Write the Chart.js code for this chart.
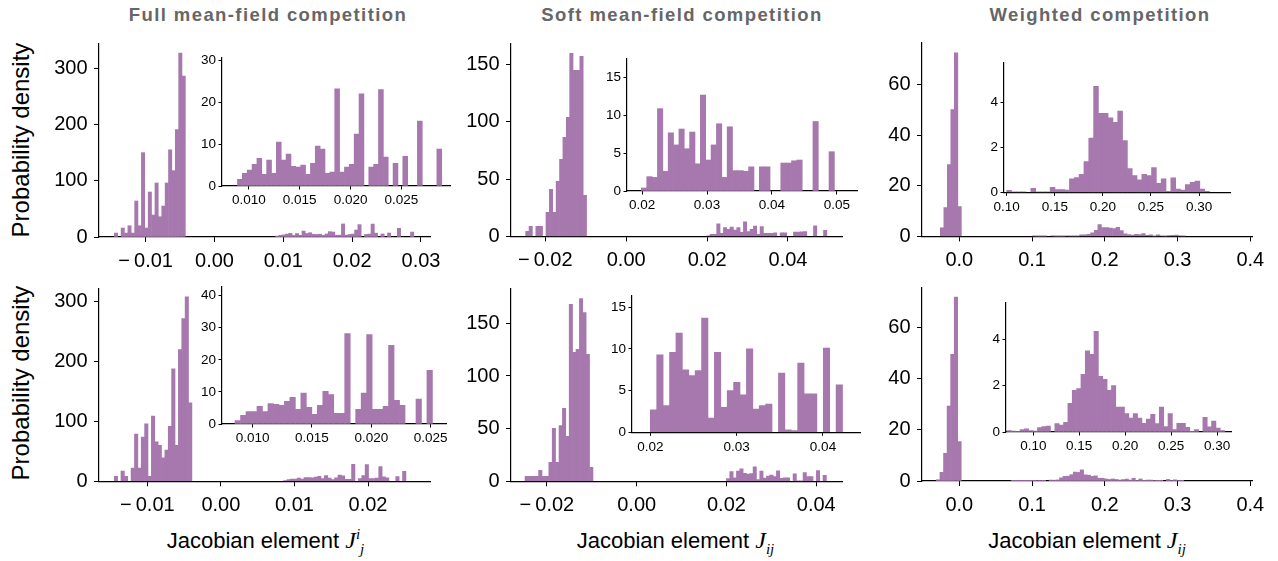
<!DOCTYPE html>
<html>
<head>
<meta charset="utf-8">
<title>Jacobian element histograms</title>
<script src="https://cdn.jsdelivr.net/npm/chart.js@4.4.7/dist/chart.umd.min.js"></script>
<style>
  html, body { margin: 0; padding: 0; background: #fff; }
  #fig { position: relative; width: 1278px; height: 561px; overflow: hidden;
         font-family: "Liberation Sans", Arial, Helvetica, sans-serif; color: #000; }
  #fig canvas { position: absolute; }
  .title { position: absolute; top: 5.6px; width: 400px; text-align: center; font-size: 18.5px;
           font-weight: bold; letter-spacing: 1.4px; color: #666; line-height: 1; white-space: nowrap; }
  .xlab { position: absolute; top: 529.7px; font-size: 22px; line-height: 1; white-space: nowrap; }
  .ylab { position: absolute; width: 300px; text-align: center; font-size: 24px; line-height: 1;
          transform: rotate(-90deg); white-space: nowrap; }
  .m { font-family: "Liberation Serif", "DejaVu Serif", serif; font-style: italic; font-size: 24px; line-height: 0; }
  .m sup, .m sub { font-size: 15px; line-height: 0; }
  .m sup { vertical-align: 9px; }
  .m sub { vertical-align: -6px; }
</style>
</head>
<body>
<div id="fig">
  <div class="title" style="left:68px">Full mean-field competition</div>
  <div class="title" style="left:482px">Soft mean-field competition</div>
  <div class="title" style="left:900px">Weighted competition</div>
  <div class="ylab" style="left:-129.3px; top:128px">Probability density</div>
  <div class="ylab" style="left:-129.3px; top:370.7px">Probability density</div>
  <div class="xlab" style="left:166.7px">Jacobian element <span class="m">J<sup>i</sup><sub>j</sub></span></div>
  <div class="xlab" style="left:576.7px">Jacobian element <span class="m">J<sub>ij</sub></span></div>
  <div class="xlab" style="left:988.3px">Jacobian element <span class="m">J<sub>ij</sub></span></div>
</div>
<script>
(function () {
  "use strict";

  var BAR = "#a678ae";

  // ---- Histogram bins: [first edge, bin width] + densities ----
  // Full mean-field, top row
  var fullTopNegBins = [-0.01456, 0.000492];
  var fullTopNeg = [7, 0, 16, 7, 20, 7, 64, 20, 150, 16, 80, 39, 96, 36, 55, 96, 155, 118, 191, 327, 286];
  var fullTopPosBins = [0.00888, 0.000478];
  var fullTopPos = [1.6, 3.0, 3.8, 5.2, 6.6, 2.8, 6.2, 3.0, 10.5, 6.2, 7.6, 4.7, 4.5, 5.0, 2.8, 5.4, 9.5, 8.8, 3.0, 3.3,
                    23.2, 3.3, 4.5, 5.2, 12.4, 22.0, 0, 4.5, 5.2, 23.0, 6.9, 0, 5.4, 0, 7.1, 0, 0, 15.5, 0, 0, 0, 8.8];

  // Full mean-field, bottom row
  var fullBotNegBins = [-0.0145, 0.000459];
  var fullBotNeg = [8.4, 0, 17, 8.4, 0, 22, 79, 22, 74, 96, 8.4, 109, 66, 60, 39, 52, 92, 188, 60, 220, 272, 308, 131];
  var fullBotPosBins = [0.00852, 0.000462];
  var fullBotPos = [1.1, 2.7, 3.9, 3.9, 5.5, 3.9, 6.4, 6.1, 5.8, 7.1, 8.3, 4.6, 9.6, 5.2, 3.0, 5.8, 10.2, 9.2, 3.3, 3.3,
                    28.2, 0, 4.6, 9.6, 27.9, 4.6, 4.6, 5.5, 24.5, 7.4, 5.8, 0, 0, 7.8, 0, 16.7];

  // Soft mean-field, top row
  var softTopNegBins = [-0.02486, 0.000837];
  var softTopNeg = [4.4, 8.7, 0, 8.7, 8.7, 0, 20.9, 41.0, 20.9, 48.0, 67.2, 86.4, 103.8, 159.7, 144.9, 144.9, 157.1, 35.8];
  var softTopPosBins = [0.0199, 0.000825];
  var softTopPos = [0.4, 1.9, 1.8, 10.9, 2.6, 7.7, 6.1, 8.2, 5.6, 7.8, 3.6, 12.7, 4.1, 6.1, 8.9, 1.8, 8.5, 2.7, 2.7, 2.6,
                    3.2, 0, 3.2, 3.2, 0, 0, 3.7, 3.7, 4.0, 4.1, 0, 0, 9.2, 0, 0, 5.2];

  // Soft mean-field, bottom row
  var softBotNegBins = [-0.02488, 0.000757];
  var softBotNeg = [4.7, 4.7, 4.7, 4.7, 10.4, 4.7, 4.7, 18, 50.3, 18, 53, 69.3, 42.7, 168, 122.4, 125.2, 173.6, 160.3, 120.5, 13.3];
  var softBotPosBins = [0.0200, 0.000742];
  var softBotPos = [2.7, 9.3, 3.2, 9.6, 11.9, 7.5, 6.8, 7.4, 13.7, 1.7, 9.6, 3.0, 5.0, 6.0, 4.5, 10.0, 2.8, 3.2, 3.4, 0,
                    7.1, 0.3, 0.2, 8.3, 4.6, 4.6, 0, 10.1, 0, 5.7];

  // Weighted, top row
  var wtdTopNegBins = [-0.0261, 0.00481];
  var wtdTopNeg = [3.4, 11.4, 28.4, 50.2, 72.7, 11.8];
  var wtdTopPosBins = [0.100, 0.00502];
  var wtdTopPos = [0.09, 0.03, 0.03, 0.03, 0, 0.18, 0.03, 0.03, 0.03, 0.22, 0.12, 0.12, 0.1, 0.6, 0.66, 0.8, 1.37, 2.4, 4.7, 3.5,
                   3.5, 3.3, 3.1, 3.6, 2.3, 1.06, 0.75, 0.56, 0.8, 0.75, 1.1, 0.4, 0.6, 0.05, 0.65, 0.15, 0.1, 0.35, 0.45, 0.5,
                   0.15, 0.05];

  // Weighted, bottom row
  var wtdBotNegBins = [-0.0316, 0.0049];
  var wtdBotNeg = [0.5, 3.4, 10.8, 29.3, 49.5, 71.9, 15.4];
  var wtdBotPosBins = [0.0713, 0.00474];
  var wtdBotPos = [0.06, 0.04, 0.03, 0.1, 0.14, 0.06, 0.04, 0.19, 0.23, 0.26, 0, 0.36, 0.3, 0.42, 1.24, 1.8, 1.88, 2.49, 3.5, 3.35,
                   4.35, 2.4, 2.27, 1.8, 2.0, 1.08, 1.08, 0.8, 0.6, 0.8, 0.6, 0.37, 0.56, 0.76, 0.36, 1.08, 0.23, 0.8, 0.1, 0.37,
                   0.37, 0.2, 0.01, 0.1, 0, 0.63, 0.22, 0.47, 0.17, 0.06];

  // ---- Tick values ----
  var fullTopXTicks = [-0.01, 0, 0.01, 0.02, 0.03];
  var fullBotXTicks = [-0.01, 0, 0.01, 0.02];
  var fullYTicks = [0, 100, 200, 300];
  var softXTicks = [-0.02, 0, 0.02, 0.04];
  var softYTicks = [0, 50, 100, 150];
  var wtdXTicks = [0, 0.1, 0.2, 0.3, 0.4];
  var wtdYTicks = [0, 20, 40, 60];

  var fullInsetXTicks = [0.010, 0.015, 0.020, 0.025];
  var fullTopInsetYTicks = [0, 10, 20, 30];
  var fullBotInsetYTicks = [0, 10, 20, 30, 40];
  var softTopInsetXTicks = [0.02, 0.03, 0.04, 0.05];
  var softBotInsetXTicks = [0.02, 0.03, 0.04];
  var softInsetYTicks = [0, 5, 10, 15];
  var wtdInsetXTicks = [0.10, 0.15, 0.20, 0.25, 0.30];
  var wtdInsetYTicks = [0, 2, 4];

  // ---- Helpers ----
  function binPoints(bins, heights) {
    var pts = [];
    heights.forEach(function (h, i) {
      if (h > 0) pts.push({ x: bins[0] + (i + 0.5) * bins[1], y: h });
    });
    return pts;
  }

  function fmt(v, d) {
    var s = Math.abs(v).toFixed(d);
    return v < -1e-12 ? "\u2212\u2009" + s : s;
  }

  var fig = document.getElementById("fig");
  // top padding has to cover half a y tick label plus its padding,
  // otherwise Chart.js pushes the plot area down
  var MAIN = { pad: { l: 60, t: 22, r: 30, b: 40 }, fs: 20, tl: 5, xp: 7, yp: 6.5 };
  var INSET = { pad: { l: 34, t: 14, r: 26, b: 26 }, fs: 13.5, tl: 3.5, xp: 3, yp: 2.5 };

  function axis(kind, range, ticks, dec, style, fitSize) {
    return {
      type: "linear",
      min: range[0],
      max: range[1],
      offset: false,
      afterFit: function (s) {
        if (kind === "x") s.height = fitSize; else s.width = fitSize;
      },
      afterBuildTicks: function (s) {
        s.ticks = ticks.map(function (v) { return { value: v }; });
      },
      grid: {
        display: true, offset: false, drawOnChartArea: false, drawTicks: true,
        tickLength: style.tl, tickWidth: 1, tickColor: "#000", color: "#000"
      },
      border: { display: true, color: "#000", width: 1.2 },
      ticks: {
        autoSkip: false, maxRotation: 0, minRotation: 0, color: "#000",
        padding: kind === "x" ? style.xp : style.yp,
        font: { size: style.fs },
        callback: function (v) { return fmt(v, dec); }
      }
    };
  }

  // box = [left, top, right, bottom] of the plotting area on the page
  function histChart(box, style, xr, yr, xt, yt, xd, yd, points) {
    var p = style.pad;
    var w = Math.round(box[2] - box[0] + p.l + p.r);
    var h = Math.round(box[3] - box[1] + p.t + p.b);
    var canvas = document.createElement("canvas");
    canvas.width = w;
    canvas.height = h;
    canvas.style.left = (box[0] - p.l) + "px";
    canvas.style.top = (box[1] - p.t) + "px";
    canvas.style.width = w + "px";
    canvas.style.height = h + "px";
    fig.appendChild(canvas);
    var padB = h - p.t - (box[3] - box[1]);
    var padR = w - p.l - (box[2] - box[0]);

    return new Chart(canvas.getContext("2d"), {
      type: "bar",
      data: {
        datasets: [{
          data: points,
          backgroundColor: BAR,
          borderWidth: 0,
          barPercentage: 1,
          categoryPercentage: 1
        }]
      },
      options: {
        responsive: false,
        animation: false,
        devicePixelRatio: 1,
        layout: { padding: { left: 0, top: p.t, right: padR, bottom: 0 } },
        plugins: { legend: { display: false }, tooltip: { enabled: false } },
        scales: {
          x: axis("x", xr, xt, xd, style, padB),
          y: axis("y", yr, yt, yd, style, p.l)
        }
      }
    });
  }

  Chart.defaults.font.family = "'Liberation Sans', Arial, Helvetica, sans-serif";

  // ---- Main panels ----
  histChart([99, 44, 430, 237], MAIN, [-0.01678, 0.03131], [0, 343.2], fullTopXTicks, fullYTicks, 2, 0,
    binPoints(fullTopNegBins, fullTopNeg).concat(binPoints(fullTopPosBins, fullTopPos)));
  histChart([99, 289, 430.7, 481.3], MAIN, [-0.01657, 0.02852], [0, 321.2], fullBotXTicks, fullYTicks, 2, 0,
    binPoints(fullBotNegBins, fullBotNeg).concat(binPoints(fullBotPosBins, fullBotPos)));
  histChart([510.7, 44.3, 841.7, 236.7], MAIN, [-0.02848, 0.05335], [0, 167.8], softXTicks, softYTicks, 2, 0,
    binPoints(softTopNegBins, softTopNeg).concat(binPoints(softTopPosBins, softTopPos)));
  histChart([510.7, 289, 841.7, 481.3], MAIN, [-0.0280, 0.04574], [0, 182.6], softXTicks, softYTicks, 2, 0,
    binPoints(softBotNegBins, softBotNeg).concat(binPoints(softBotPosBins, softBotPos)));
  histChart([921.7, 43.3, 1251.7, 236.7], MAIN, [-0.0513, 0.4023], [0, 76.6], wtdXTicks, wtdYTicks, 1, 0,
    binPoints(wtdTopNegBins, wtdTopNeg).concat(binPoints(wtdTopPosBins, wtdTopPos)));
  histChart([921.7, 288.3, 1251.7, 481.3], MAIN, [-0.0513, 0.4023], [0, 75.4], wtdXTicks, wtdYTicks, 1, 0,
    binPoints(wtdBotNegBins, wtdBotNeg).concat(binPoints(wtdBotPosBins, wtdBotPos)));

  // ---- Insets (positive elements only) ----
  histChart([221.7, 57.7, 450, 185.7], INSET, [0.00736, 0.0298], [0, 30.55], fullInsetXTicks, fullTopInsetYTicks, 3, 0,
    binPoints(fullTopPosBins, fullTopPos));
  histChart([221.7, 286.7, 446, 423.7], INSET, [0.00742, 0.02632], [0, 42.7], fullInsetXTicks, fullBotInsetYTicks, 3, 0,
    binPoints(fullBotPosBins, fullBotPos));
  histChart([626.7, 59.3, 856.7, 191.3], INSET, [0.01769, 0.05308], [0, 17.47], softTopInsetXTicks, softInsetYTicks, 2, 0,
    binPoints(softTopPosBins, softTopPos));
  histChart([631.7, 296, 860, 432.3], INSET, [0.01788, 0.04432], [0, 16.35], softBotInsetXTicks, softInsetYTicks, 2, 0,
    binPoints(softBotPosBins, softBotPos));
  histChart([1004, 63.3, 1230, 192.7], INSET, [0.0972, 0.3322], [0, 5.73], wtdInsetXTicks, wtdInsetYTicks, 2, 0,
    binPoints(wtdTopPosBins, wtdTopPos));
  histChart([1005.7, 302.7, 1231, 431.7], INSET, [0.07028, 0.31555], [0, 5.57], wtdInsetXTicks, wtdInsetYTicks, 2, 0,
    binPoints(wtdBotPosBins, wtdBotPos));
})();
</script>
</body>
</html>
